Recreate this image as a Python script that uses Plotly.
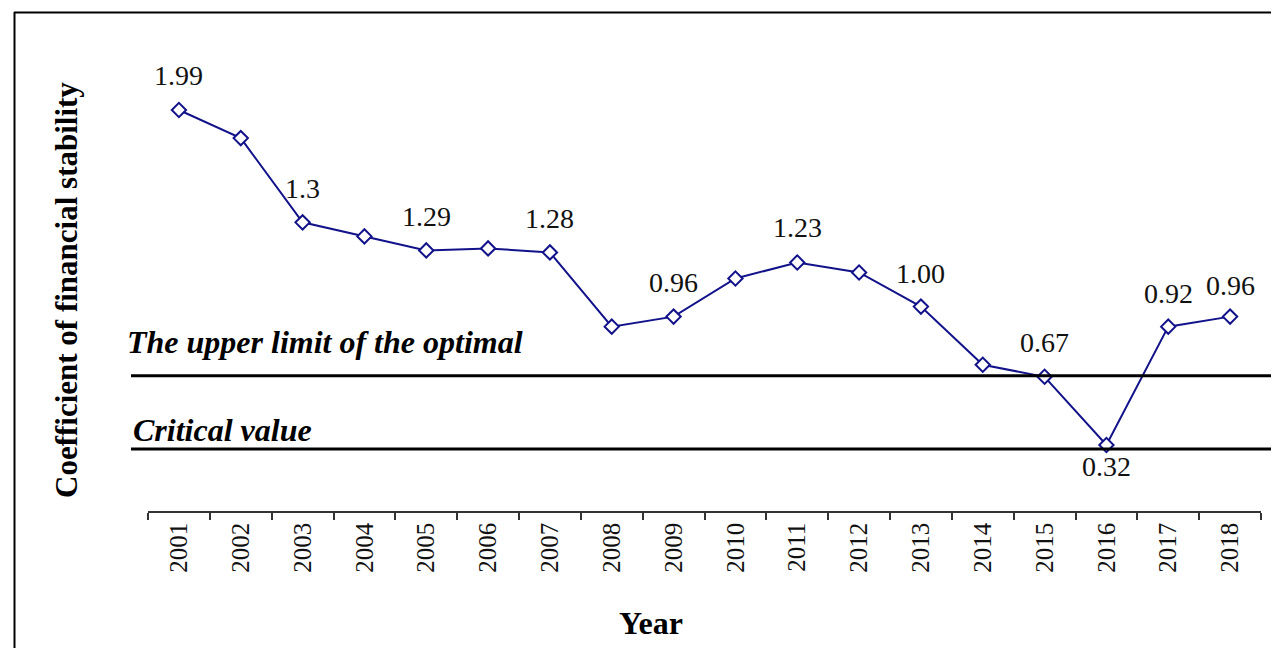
import plotly.graph_objects as go

years = [str(y) for y in range(2001, 2019)]
values = [1.99, 1.85, 1.43, 1.36, 1.29, 1.30, 1.28, 0.91, 0.96,
          1.15, 1.23, 1.18, 1.01, 0.72, 0.66, 0.32, 0.91, 0.96]

label_years = ["2001", "2003", "2005", "2007", "2009", "2011", "2013", "2015", "2016", "2017", "2018"]
label_texts = ["1.99", "1.3", "1.29", "1.28", "0.96", "1.23", "1.00", "0.67", "0.32", "0.92", "0.96"]
label_shift = [35, 34, 34, 34, 34, 35, 33, 34, -21, 33, 31]

upper_limit = 0.665
critical_value = 0.30

NAVY = "#12128a"
FONT = "Liberation Serif"

OFF = 8  # page body margin offset
FIG_W, FIG_H = 1279 - OFF, 648 - OFF
# plot area geometry (target pixels in screenshot)
L, R, T, B = 148, 1261, 40, 511
W, H = R - L, B - T
def px(x):
    return (x - L) / W
def py(y):
    return (B - y) / H

fig = go.Figure()
fig.add_trace(go.Scatter(
    x=years, y=values, mode="lines+markers",
    line=dict(color=NAVY, width=2),
    marker=dict(symbol="diamond", size=11, color="white",
                line=dict(color=NAVY, width=2)),
    hoverinfo="x+y", showlegend=False,
))

annotations = []
val_by_year = dict(zip(years, values))
for yr, txt, sh in zip(label_years, label_texts, label_shift):
    annotations.append(dict(
        x=years.index(yr), y=val_by_year[yr], xref="x", yref="y", text=txt,
        showarrow=False, yshift=sh,
        font=dict(family=FONT, size=28, color="#111111"),
    ))

annotations.append(dict(
    x=px(125), y=upper_limit, xref="paper", yref="y", yshift=34,
    xanchor="left", text="<b><i>The upper limit of the optimal</i></b>",
    showarrow=False, font=dict(family=FONT, size=32, color="black"),
))
annotations.append(dict(
    x=px(131), y=critical_value, xref="paper", yref="y", yshift=19,
    xanchor="left", text="<b><i>Critical value</i></b>",
    showarrow=False, font=dict(family=FONT, size=32, color="black"),
))
annotations.append(dict(
    x=px(66), y=py(290), xref="paper", yref="paper", textangle=-90,
    xanchor="center", yanchor="middle",
    text="<b>Coefficient of financial stability</b>", showarrow=False,
    font=dict(family=FONT, size=31, color="black"),
))
annotations.append(dict(
    x=px(651), y=py(623), xref="paper", yref="paper",
    xanchor="center", yanchor="middle",
    text="<b>Year</b>", showarrow=False,
    font=dict(family=FONT, size=32, color="black"),
))

shapes = [
    dict(type="line", xref="paper", yref="y", x0=px(131), x1=px(1290),
         y0=upper_limit, y1=upper_limit, line=dict(color="black", width=3)),
    dict(type="line", xref="paper", yref="y", x0=px(131), x1=px(1290),
         y0=critical_value, y1=critical_value, line=dict(color="black", width=3)),
    # outer frame: top and left edges (the rest is outside the picture)
    dict(type="line", xref="paper", yref="paper", x0=px(14), x1=px(1290),
         y0=py(12.5), y1=py(12.5), line=dict(color="black", width=2)),
    dict(type="line", xref="paper", yref="paper", x0=px(14.5), x1=px(14.5),
         y0=py(12), y1=py(660), line=dict(color="black", width=2)),
]

fig.update_layout(
    width=FIG_W, height=FIG_H,
    margin=dict(l=L - OFF, r=FIG_W - (R - OFF), t=T - OFF, b=FIG_H - (B - OFF)),
    paper_bgcolor="white", plot_bgcolor="white",
    annotations=annotations, shapes=shapes,
    xaxis=dict(
        type="category", tickson="boundaries", ticks="outside", ticklen=7,
        tickcolor="#333333", tickwidth=1.5,
        showline=True, linecolor="#333333", linewidth=1.5,
        showgrid=False, zeroline=False, tickangle=-90,
        tickfont=dict(family=FONT, size=25, color="#111111"),
        range=[-0.5, 17.5],
    ),
    yaxis=dict(
        range=[-0.009, 2.339], showgrid=False, zeroline=False,
        showticklabels=False, showline=False, ticks="",
    ),
)

fig.write_html("out.html")
